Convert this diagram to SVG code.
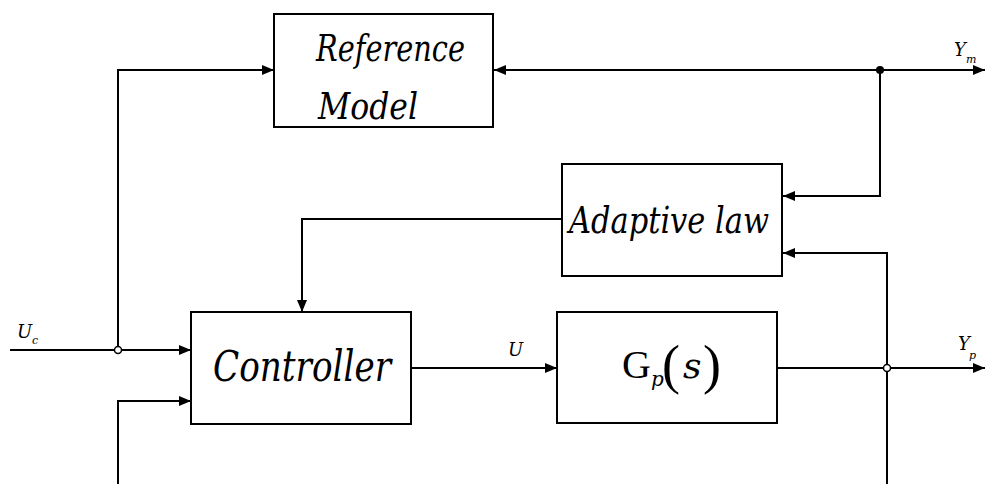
<svg xmlns="http://www.w3.org/2000/svg" width="986" height="484" viewBox="0 0 986 484">
<style>
.box{fill:#fff;stroke:#000;stroke-width:2}
.ln{fill:none;stroke:#000;stroke-width:2;marker-end:url(#ah)}
.t{font-family:"DejaVu Serif","Liberation Serif",serif;font-style:italic;fill:#000}
.u{font-family:"Liberation Serif","Times New Roman",serif;fill:#000}
</style>
<defs>
<marker id="ah" markerUnits="userSpaceOnUse" markerWidth="13" markerHeight="11" refX="12" refY="5" orient="auto">
<path d="M0,0 L12,5 L0,10 z" fill="#000"/>
</marker>
</defs>
<rect width="986" height="484" fill="#fff"/>
<g id="connectors">
<path class="ln" d="M10,350 H191"/>
<path class="ln" d="M118,350 V70 H274"/>
<path class="ln" d="M880,70 H494"/>
<path class="ln" d="M880,70 H985"/>
<path class="ln" d="M880,70 V196 H783"/>
<path class="ln" d="M887,484 V253 H783"/>
<path class="ln" d="M562,219 H302 V312"/>
<path class="ln" d="M411,368 H557"/>
<path class="ln" d="M777,368 H985"/>
<path class="ln" d="M118,484 V401 H191"/>
<circle cx="880" cy="70" r="4" fill="#000"/>
<circle cx="118" cy="350" r="3.5" fill="#fff" stroke="#000" stroke-width="1.5"/>
<circle cx="887" cy="368" r="3.5" fill="#fff" stroke="#000" stroke-width="1.5"/>
</g>
<g id="reference-model">
<rect class="box" x="274" y="14" width="219" height="113"/>
<text class="t" x="316" y="61" font-size="37" textLength="149" lengthAdjust="spacingAndGlyphs">Reference</text>
<text class="t" x="318" y="119" font-size="37" textLength="100" lengthAdjust="spacingAndGlyphs">Model</text>
</g>
<g id="adaptive-law">
<rect class="box" x="562" y="164" width="220" height="112"/>
<text class="t" x="569" y="233" font-size="37" textLength="200" lengthAdjust="spacingAndGlyphs">Adaptive law</text>
</g>
<g id="controller">
<rect class="box" x="191" y="312" width="220" height="112"/>
<text class="t" x="213" y="381" font-size="42" textLength="178" lengthAdjust="spacingAndGlyphs">Controller</text>
</g>
<g id="plant">
<rect class="box" x="557" y="312" width="220" height="111"/>
<text class="u" x="622" y="378" font-size="40">G</text>
<text class="t" x="651" y="386" font-size="20">p</text>
<text class="u" x="662" y="383" font-size="54">(</text>
<text class="t" x="683" y="378" font-size="36">s</text>
<text class="u" x="703" y="383" font-size="54">)</text>
</g>
<g id="labels">
<text class="t" x="17" y="338" font-size="18">U</text>
<text class="t" x="32" y="344" font-size="11">c</text>
<text class="t" x="508" y="356" font-size="18">U</text>
<text class="t" x="954" y="56" font-size="18">Y</text>
<text class="t" x="966" y="63" font-size="11">m</text>
<text class="t" x="958" y="350" font-size="18">Y</text>
<text class="t" x="969" y="359" font-size="11">p</text>
</g>
</svg>
